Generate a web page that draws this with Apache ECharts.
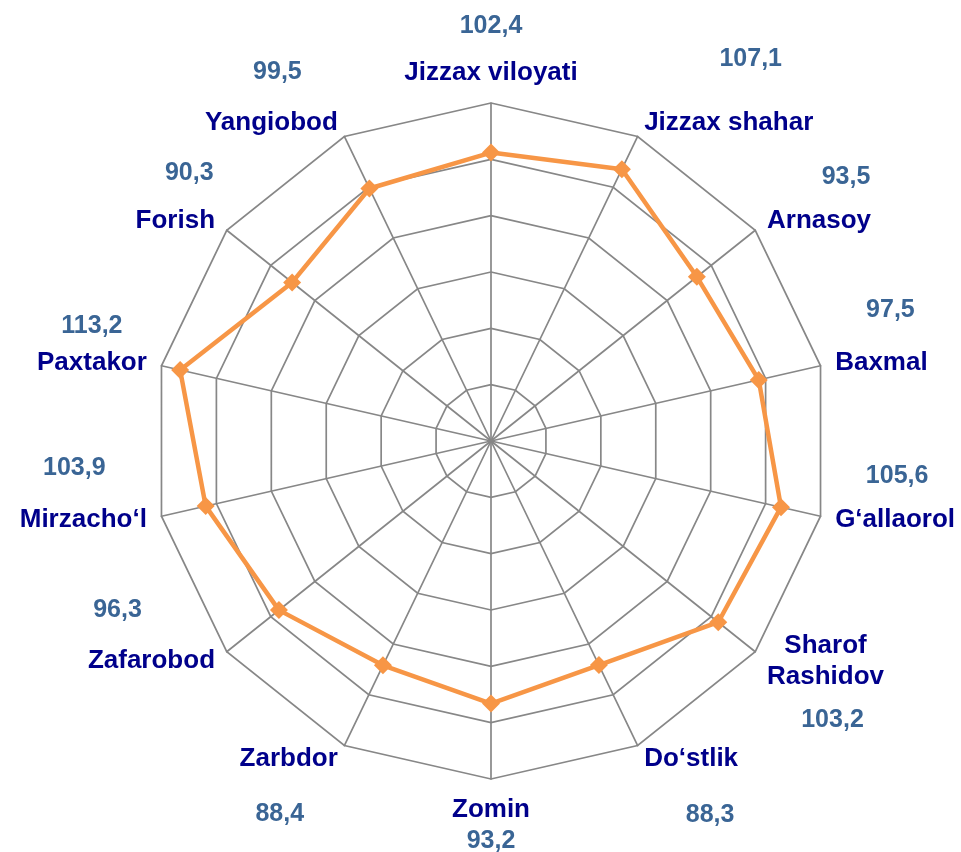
<!DOCTYPE html>
<html>
<head>
<meta charset="utf-8">
<style>
    html, body { margin: 0; padding: 0; background: #ffffff; }
    #chart { width: 961px; height: 852px; }
</style>
<script src="https://cdn.jsdelivr.net/npm/echarts@6/dist/echarts.min.js"></script>
</head>
<body>
<div id="chart"></div>
<script>
// tumanlar, soat strelkasiga teskari tartibda (radar shu yo'nalishda chizadi)
var categories = [
    'Jizzax viloyati', 'Yangiobod', 'Forish', 'Paxtakor', 'Mirzacho‘l', 'Zafarobod', 'Zarbdor',
    'Zomin', 'Do‘stlik', 'Sharof\nRashidov', 'G‘allaorol', 'Baxmal', 'Arnasoy', 'Jizzax shahar'
];
var values = [102.4, 99.5, 90.3, 113.2, 103.9, 96.3, 88.4, 93.2, 88.3, 103.2, 105.6, 97.5, 93.5, 107.1];

var axisMax = 120;

// qiymat yozuvining nomga nisbatan siljishi [dx, dy]
var valueShift = [
    [0, -46], [6, -51], [14, -48], [0, -36], [-9, -51], [-34, -51], [-9, 55],
    [0, 32], [19, 56], [7, 59], [2, -43], [9, -52], [27, -44], [22, -64]
];

var nameColor = '#00008b';
var valueColor = '#3a6595';
var gridColor = '#878787';
var lineColor = '#f79646';

var rich = {
    n: {
        fontFamily: 'Liberation Sans',
        fontWeight: 'bold',
        fontSize: 26,
        lineHeight: 31,
        color: nameColor,
        align: 'center'
    }
};

var formatted = categories.map(function (name, i) {
    var dx = valueShift[i][0];
    var dy = valueShift[i][1];
    var nl = name.split('\n').length;
    var lh = 2 * (Math.abs(dy) - 15.5 * nl);
    rich['v' + i] = {
        fontFamily: 'Liberation Sans',
        fontWeight: 'bold',
        fontSize: 25,
        color: valueColor,
        lineHeight: lh,
        align: 'center',
        padding: [0, dx < 0 ? -2 * dx : 0, 0, dx > 0 ? 2 * dx : 0]
    };
    rich['s' + i] = {fontSize: 4, lineHeight: lh};
    var v = '{v' + i + '|' + String(values[i]).replace('.', ',') + '}';
    var n = '{n|' + name + '}';
    // yuqori va pastki vertikal o'qlarda bo'sh qator kerak emas
    if (i === 0) {
        return v + '\n' + n;
    }
    if (i === 7) {
        return n + '\n' + v;
    }
    if (dy < 0) {
        return v + '\n' + n + '\n{s' + i + '| }';
    }
    return '{s' + i + '| }\n' + n + '\n' + v;
});

var chart = echarts.init(document.getElementById('chart'));

var option = {
    backgroundColor: '#ffffff',
    animation: false,
    radar: {
        center: [491, 441],
        radius: 338,
        startAngle: 90,
        splitNumber: 6,
        shape: 'polygon',
        axisNameGap: 15,
        indicator: categories.map(function (c) {
            return {name: c, min: 0, max: axisMax};
        }),
        axisName: {
            formatter: function (name) {
                return formatted[categories.indexOf(name)];
            },
            rich: rich
        },
        splitLine: {
            lineStyle: {color: gridColor, width: 1.7}
        },
        splitArea: {show: false},
        axisLine: {
            lineStyle: {color: gridColor, width: 1.7}
        },
        axisTick: {show: false},
        axisLabel: {show: false}
    },
    series: [
        {
            type: 'radar',
            symbol: 'diamond',
            symbolSize: 18,
            lineStyle: {color: lineColor, width: 4.5},
            itemStyle: {color: lineColor},
            data: [
                {value: values}
            ]
        }
    ]
};

chart.setOption(option);
</script>
</body>
</html>
